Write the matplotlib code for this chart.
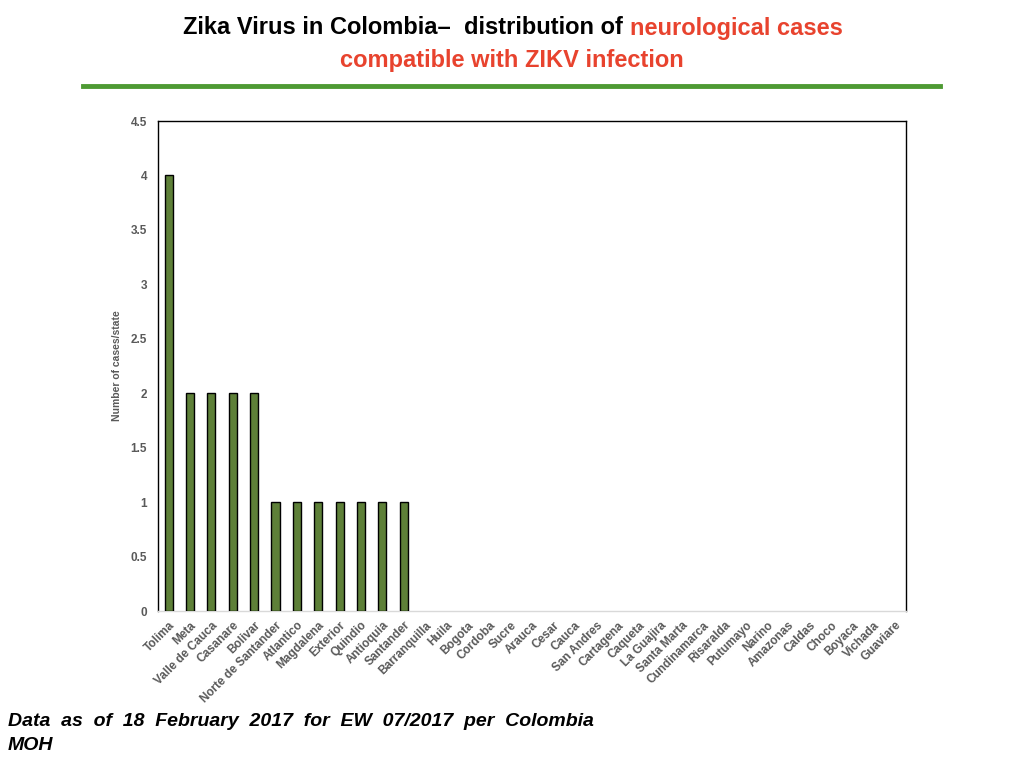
import matplotlib
matplotlib.use("Agg")
import matplotlib.pyplot as plt

states = ["Tolima", "Meta", "Valle de Cauca", "Casanare", "Bolivar", "Norte de Santander",
          "Atlantico", "Magdalena", "Exterior", "Quindio", "Antioquia", "Santander",
          "Barranquilla", "Huila", "Bogota", "Cordoba", "Sucre", "Arauca", "Cesar", "Cauca",
          "San Andres", "Cartagena", "Caqueta", "La Guajira", "Santa Marta", "Cundinamarca",
          "Risaralda", "Putumayo", "Narino", "Amazonas", "Caldas", "Choco", "Boyaca",
          "Vichada", "Guaviare"]
cases = [4, 2, 2, 2, 2, 1, 1, 1, 1, 1, 1, 1,
         0, 0, 0, 0, 0, 0, 0, 0, 0, 0, 0, 0, 0, 0, 0, 0, 0, 0, 0, 0, 0, 0, 0]
yticks = [0, 0.5, 1, 1.5, 2, 2.5, 3, 3.5, 4, 4.5]
ytick_labels = ["0", "0.5", "1", "1.5", "2", "2.5", "3", "3.5", "4", "4.5"]

plt.rcParams['font.family'] = ['Liberation Sans', 'DejaVu Sans']

fig = plt.figure(figsize=(10.24, 7.68), dpi=100)
ax = fig.add_axes([158/1024, 1-611/768, 748/1024, 490/768])

x = list(range(len(states)))
edges = ["black" if v > 0 else "none" for v in cases]
ax.bar(x, cases, width=0.38, color="#5E8038", edgecolor=edges, linewidth=1.0, zorder=3)
ax.set_xlim(-0.5, len(states)-0.5)
ax.set_ylim(0, 4.5)
ax.set_yticks(yticks)
ax.set_yticklabels(ytick_labels)
ax.set_xticks(x)
ax.set_xticklabels(states, rotation=45, ha="right", rotation_mode="anchor")
ax.tick_params(axis="both", length=0, labelsize=8.5, labelcolor="#595959")
ax.tick_params(axis="y", pad=8)
ax.tick_params(axis="x", pad=6)
for lab in ax.get_xticklabels() + ax.get_yticklabels():
    lab.set_fontweight("bold")
for s in ["left", "top", "right"]:
    ax.spines[s].set_color("black")
    ax.spines[s].set_linewidth(1.0)
ax.spines["bottom"].set_color("#D9D9D9")
ax.spines["bottom"].set_linewidth(1.0)
ax.set_ylabel("Number of cases/state", fontsize=7.5, fontweight="bold", color="#595959", labelpad=6)

# Title with mixed colours
red = "#E8432E"
fs = 17
part1 = "Zika Virus in Colombia\u2013  distribution of "
part2 = "neurological cases"
t1 = fig.text(0, 0, part1, fontsize=fs, fontweight="bold", color="black")
t2 = fig.text(0, 0, part2, fontsize=fs, fontweight="bold", color=red)
fig.canvas.draw()
r = fig.canvas.get_renderer()
w1 = t1.get_window_extent(r).width
w2 = t2.get_window_extent(r).width
total = w1 + w2
x0 = 513 - total/2
ytop = 1 - 28/768
t1.set_position((x0/1024, ytop)); t1.set_va("center")
t2.set_position(((x0+w1)/1024, ytop)); t2.set_va("center")
fig.text(512/1024, 1-60/768, "compatible with ZIKV infection", fontsize=fs, fontweight="bold",
         color=red, ha="center", va="center")

fig.add_artist(plt.Line2D([83/1024, 940/1024], [1-86/768, 1-86/768], color="#4E9A33", linewidth=3.5))

fig.text(8/1024, 1-721/768, "Data  as  of  18  February  2017  for  EW  07/2017  per  Colombia",
         fontsize=14, fontweight="bold", style="italic", ha="left", va="center")
fig.text(8/1024, 1-745/768, "MOH", fontsize=14, fontweight="bold", style="italic", ha="left", va="center")

fig.savefig("out.png", dpi=100)
